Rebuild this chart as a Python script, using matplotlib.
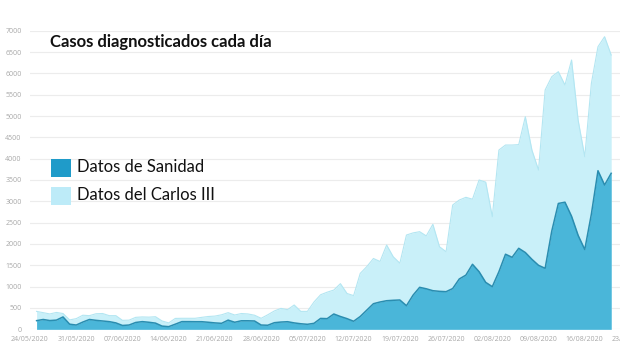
import matplotlib.pyplot as plt
import matplotlib.dates as mdates
from matplotlib.patches import Rectangle
import pandas as pd

# casos diarios, 25/05/2020 - 20/08/2020
sanidad = [203, 230, 205, 215, 290, 120, 100, 170, 230, 210,
           195, 180, 150, 90, 100, 160, 180, 165, 145, 75,
           62, 120, 180, 180, 178, 178, 165, 150, 140, 215,
           165, 200, 200, 195, 100, 95, 155, 170, 178, 150,
           130, 117, 140, 255, 250, 359, 300, 250, 188, 300,
           450, 600, 640, 670, 680, 687, 553, 800, 984, 950,
           905, 890, 882, 955, 1180, 1270, 1524, 1350, 1100, 1000,
           1350, 1760, 1688, 1899, 1800, 1640, 1500, 1430, 2300, 2950,
           2980, 2650, 2200, 1870, 2700, 3718, 3383, 3657]
carlos3 = [420, 390, 360, 395, 370, 220, 250, 330, 320, 365,
           370, 320, 320, 210, 215, 280, 290, 285, 295, 195,
           150, 255, 258, 258, 258, 280, 300, 310, 340, 390,
           335, 370, 360, 330, 258, 340, 430, 490, 460, 570,
           420, 420, 640, 810, 870, 920, 1070, 840, 790, 1310,
           1470, 1660, 1590, 1976, 1700, 1550, 2210, 2260, 2288, 2190,
           2461, 1936, 1819, 2914, 3030, 3094, 3050, 3500, 3450, 2640,
           4203, 4320, 4320, 4330, 4984, 4200, 3734, 5610, 5921, 6039,
           5727, 6313, 4900, 4046, 5766, 6625, 6859, 6430]
fechas = pd.date_range("2020-05-25", periods=len(sanidad), freq="D")
semanas = pd.date_range("2020-05-24", "2020-08-23", freq="7D")
yticks = list(range(0, 7001, 500))

c_sanidad, c_sanidad_line = "#4ab6d9", "#2a8db0"
c_carlos, c_carlos_line = "#c9f0f9", "#b3e6f2"

W, H = 620, 349
fig = plt.figure(figsize=(W / 100, H / 100), dpi=100)
fig.patch.set_facecolor("white")

x0, x1 = 30, 631
y0, y1 = 329.3, 30.7
ax = fig.add_axes([x0 / W, (H - y0) / H, (x1 - x0) / W, (y0 - y1) / H])

ax.fill_between(fechas, carlos3, color=c_carlos, lw=0, zorder=2)
ax.plot(fechas, carlos3, color=c_carlos_line, lw=0.8, zorder=2)
ax.fill_between(fechas, sanidad, color=c_sanidad, lw=0, zorder=3)
ax.plot(fechas, sanidad, color=c_sanidad_line, lw=1.1, zorder=3)

ax.set_xlim(pd.Timestamp("2020-05-24"), pd.Timestamp("2020-08-23"))
ax.set_ylim(0, 7000)
ax.set_xticks(semanas)
ax.xaxis.set_major_formatter(mdates.DateFormatter("%d/%m/%Y"))
ax.set_yticks(yticks)
ax.grid(axis="y", color="#ececec", lw=0.8, zorder=0)
for s in ax.spines.values():
    s.set_visible(False)
ax.tick_params(length=0, labelsize=5, labelcolor="#a8a8a8")
ax.tick_params(axis="y", pad=6)
ax.tick_params(axis="x", pad=5)
for lbl in ax.get_xticklabels() + ax.get_yticklabels():
    lbl.set_family("Open Sans")

fig.text(50 / W, 1 - 42 / H, "Casos diagnosticados cada día", fontsize=12,
         fontweight="bold", family="Lato", va="center", ha="left", color="#111111")

# leyenda
items = [(167.5, "#1f9bc9", "Datos de Sanidad"),
         (195.5, "#bdebf8", "Datos del Carlos III")]
for yc, col, txt in items:
    fig.patches.append(Rectangle((51 / W, 1 - (yc + 9) / H), 20 / W, 18 / H,
                                 transform=fig.transFigure, color=col, lw=0))
    fig.text(77 / W, 1 - yc / H, txt, fontsize=12, family="Lato",
             va="center", ha="left", color="#111111")

fig.savefig("out.png", dpi=100)
